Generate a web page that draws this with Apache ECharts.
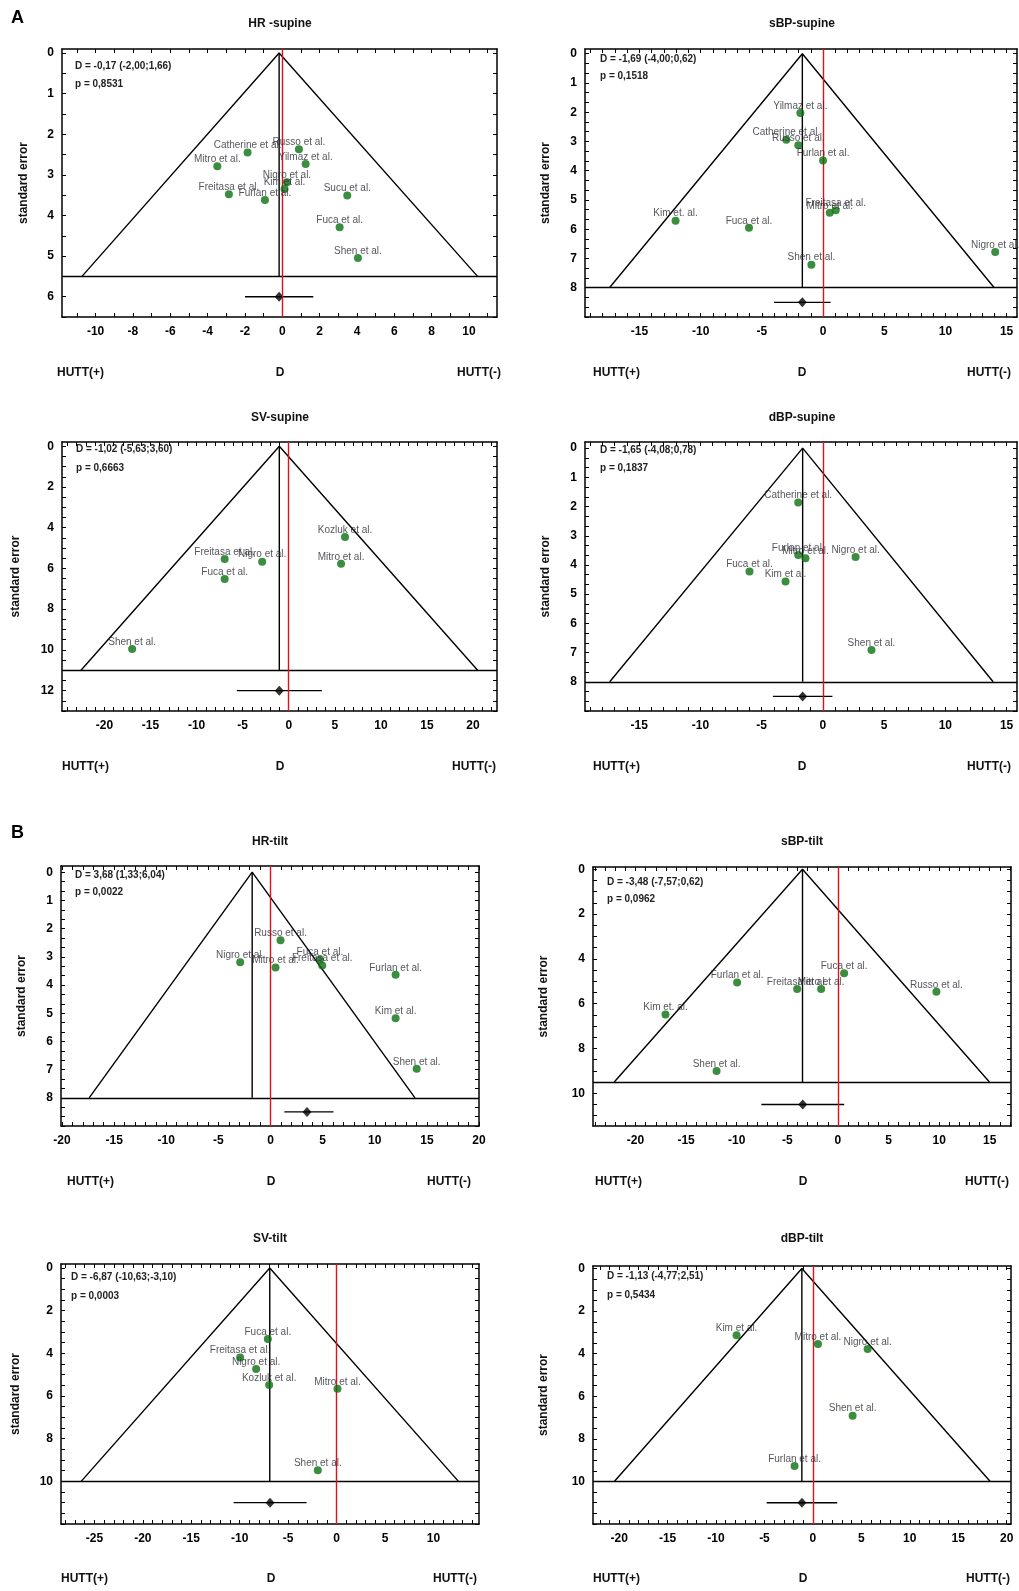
<!DOCTYPE html>
<html><head><meta charset="utf-8">
<script src="https://cdn.jsdelivr.net/npm/echarts@6/dist/echarts.min.js"></script>
<style>html,body{margin:0;padding:0;background:#fff}#c{width:1019px;height:1591px}</style>
</head><body><div id="c"></div>
<script>
// ---------------- DATA ----------------
const panelTitles = ['HR -supine','sBP-supine','SV-supine','dBP-supine','HR-tilt','sBP-tilt','SV-tilt','dBP-tilt'];

const hrSupineNames  = ['Catherine et al.','Russo et al.','Mitro et al.','Yilmaz et al.','Nigro et al.','Kim et al.','Freitasa et al.','Furlan et al.','Sucu et al.','Fuca et al.','Shen et al.'];
const hrSupineD      = [-1.86, 0.89, -3.48, 1.25, 0.25, 0.12, -2.86, -0.93, 3.48, 3.07, 4.05];
const hrSupineSE     = [2.45, 2.37, 2.79, 2.73, 3.18, 3.35, 3.48, 3.62, 3.51, 4.29, 5.05];

const sbpSupineNames = ['Yilmaz et al.','Catherine et al.','Russo et al.','Furlan et al.','Freitasa et al.','Mitro et al.','Kim et. al.','Fuca et al.','Nigro et al.','Shen et al.'];
const sbpSupineD     = [-1.85, -3.0, -2.02, 0.0, 1.04, 0.55, -12.05, -6.05, 14.07, -0.95];
const sbpSupineSE    = [2.03, 2.94, 3.13, 3.65, 5.35, 5.44, 5.71, 5.95, 6.78, 7.21];

const svSupineNames  = ['Kozluk et al.','Freitasa et al.','Nigro et al.','Mitro et al.','Fuca et al.','Shen et al.'];
const svSupineD      = [6.11, -6.95, -2.88, 5.68, -6.95, -16.99];
const svSupineSE     = [4.46, 5.54, 5.67, 5.77, 6.52, 9.95];

const dbpSupineNames = ['Catherine et al.','Furlan et al.','Mitro et al.','Nigro et al.','Fuca et al.','Kim et al.','Shen et al.'];
const dbpSupineD     = [-2.01, -2.01, -1.42, 2.67, -5.99, -3.05, 3.97];
const dbpSupineSE    = [1.86, 3.66, 3.77, 3.73, 4.22, 4.57, 6.91];

const hrTiltNames    = ['Russo et al.','Nigro et al.','Mitro et al.','Fuca et al.','Freitasa et al.','Furlan et al.','Kim et al.','Shen et al.'];
const hrTiltD        = [0.96, -2.91, 0.48, 4.74, 4.96, 12.0, 12.0, 14.02];
const hrTiltSE       = [2.41, 3.19, 3.38, 3.10, 3.31, 3.64, 5.18, 6.97];

const sbpTiltNames   = ['Fuca et al.','Furlan et al.','Freitasa et al.','Mitro et al.','Russo et al.','Kim et. al.','Shen et al.'];
const sbpTiltD       = [0.61, -9.96, -4.03, -1.66, 9.73, -17.04, -11.99];
const sbpTiltSE      = [4.64, 5.05, 5.35, 5.35, 5.47, 6.48, 9.0];

const svTiltNames    = ['Fuca et al.','Freitasa et al.','Nigro et al.','Kozluk et al.','Mitro et al.','Shen et al.'];
const svTiltD        = [-7.10, -9.96, -8.31, -6.96, 0.09, -1.94];
const svTiltSE       = [3.33, 4.19, 4.73, 5.48, 5.66, 9.48];

const dbpTiltNames   = ['Kim et al.','Mitro et al.','Nigro et al.','Shen et al.','Furlan et al.'];
const dbpTiltD       = [-7.88, 0.52, 5.65, 4.10, -1.89];
const dbpTiltSE      = [3.13, 3.55, 3.78, 6.91, 9.27];

// pooled estimates
const statText   = ['D = -0,17 (-2,00;1,66)','D = -1,69 (-4,00;0,62)','D = -1,02 (-5,63;3,60)','D = -1,65 (-4,08;0,78)','D = 3,68 (1,33;6,04)','D = -3,48 (-7,57;0,62)','D = -6,87 (-10,63;-3,10)','D = -1,13 (-4,77;2,51)'];
const pText      = ['p = 0,8531','p = 0,1518','p = 0,6663','p = 0,1837','p = 0,0022','p = 0,0962','p = 0,0003','p = 0,5434'];
const diamondX   = [-0.17, -1.69, -1.02, -1.65, 3.5, -3.48, -6.87, -1.13];
const ciLow      = [-2.00, -4.00, -5.63, -4.08, 1.33, -7.57, -10.63, -4.77];
const ciHigh     = [1.66, 0.62, 3.60, 0.78, 6.04, 0.62, -3.10, 2.51];
const summaryRow = [6, 8.5, 12, 8.5, 8.5, 10.5, 11, 11];
// funnel
const funnelBase  = [5.5, 8, 11, 8, 8, 9.5, 10, 10];
const funnelApexX = [-0.17, -1.69, -1.02, -1.65, -1.76, -3.5, -6.9, -1.14];
const funnelLeft  = [-10.73, -17.45, -22.54, -17.4, -17.4, -22.1, -26.37, -20.5];
const funnelRight = [10.46, 13.99, 20.5, 13.9, 13.86, 14.97, 12.58, 18.31];
// axes
const xMin = [-11.8, -19.45, -24.6, -19.42, -20.1, -24.2, -28.45, -22.7];
const xMax = [11.5, 15.85, 22.6, 15.85, 20, 17.1, 14.7, 20.45];
const yMin = [-0.1, -0.16, -0.21, -0.21, -0.22, -0.1, -0.19, -0.12];
const yMax = [6.5, 9, 13, 9, 9, 11.46, 12, 12];
const xTickLabels = [
  [-10,-8,-6,-4,-2,0,2,4,6,8,10],
  [-15,-10,-5,0,5,10,15],
  [-20,-15,-10,-5,0,5,10,15,20],
  [-15,-10,-5,0,5,10,15],
  [-20,-15,-10,-5,0,5,10,15,20],
  [-20,-15,-10,-5,0,5,10,15],
  [-25,-20,-15,-10,-5,0,5,10],
  [-20,-15,-10,-5,0,5,10,15,20]
];
const yTickLabels = [
  [0,1,2,3,4,5,6],
  [0,1,2,3,4,5,6,7,8],
  [0,2,4,6,8,10,12],
  [0,1,2,3,4,5,6,7,8],
  [0,1,2,3,4,5,6,7,8],
  [0,2,4,6,8,10],
  [0,2,4,6,8,10],
  [0,2,4,6,8,10]
];
const xSub = [2,5,5,5,5,5,5,5];
const ySub = [2,3,4,3,3,4,4,4];

const studyNames = [hrSupineNames, sbpSupineNames, svSupineNames, dbpSupineNames, hrTiltNames, sbpTiltNames, svTiltNames, dbpTiltNames];
const studyD     = [hrSupineD, sbpSupineD, svSupineD, dbpSupineD, hrTiltD, sbpTiltD, svTiltD, dbpTiltD];
const studySE    = [hrSupineSE, sbpSupineSE, svSupineSE, dbpSupineSE, hrTiltSE, sbpTiltSE, svTiltSE, dbpTiltSE];

// ---------------- LAYOUT ----------------
const gridRect = [[62,49,435,268],[585,49,432,268],[62,442,435,269],[585,442,432,269],
                  [61,866,418,260],[593,867,418,259],[61,1264,418,260],[593,1266,418,258]];
const titlePos = [[280,24],[802,24],[280,418],[802,418],[270,842],[802,842],[270,1239],[802,1239]];
const yNameX = [24,546,16,546,22,544,16,544];
const huttRow = [[373,57,280,501],[373,593,802,1011],[767,62,280,496],[767,593,802,1011],
                 [1182,67,271,471],[1182,595,803,1009],[1579,61,271,477],[1579,593,803,1010]];
const annPos = [[75,66,84],[600,59,76],[76,449,468],[600,450,468],[75,875,892],[607,882,899],[71,1277,1296],[607,1276,1295]];

const FF = '"Liberation Sans", Arial, Helvetica, sans-serif';
const BOLD12 = 'bold 12px ' + FF;

function tickSet(majors, sub, mn, mx) {
  const step = (majors[1] - majors[0]) / sub;
  const out = [];
  let v = majors[0];
  while (v - step >= mn - 1e-9) v -= step;
  for (; v <= mx + 1e-9; v += step) out.push(Math.round(v * 1000) / 1000);
  return out;
}

const grids = [], xAxes = [], yAxes = [], series = [], graphics = [];
const baseAxis = {
  type: 'value', splitLine: { show: false },
  axisLine: { show: true, onZero: false, lineStyle: { color: '#000', width: 1.5 } }
};

for (let i = 0; i < 8; i++) {
  const g = gridRect[i];
  grids.push({ left: g[0], top: g[1], width: g[2], height: g[3], containLabel: false });
  const xt = tickSet(xTickLabels[i], xSub[i], xMin[i], xMax[i]);
  const yt = tickSet(yTickLabels[i], ySub[i], yMin[i], yMax[i]);
  const tick = (vals) => ({ show: true, inside: true, length: 4, customValues: vals, lineStyle: { color: '#000', width: 1 } });
  xAxes.push(Object.assign({}, baseAxis, { gridIndex: i, position: 'bottom', min: xMin[i], max: xMax[i],
    axisTick: tick(xt),
    axisLabel: { show: true, customValues: xTickLabels[i], margin: 9, color: '#000', fontWeight: 'bold', fontSize: 12, fontFamily: FF } }));
  xAxes.push(Object.assign({}, baseAxis, { gridIndex: i, position: 'top', min: xMin[i], max: xMax[i],
    axisTick: tick(xt), axisLabel: { show: false } }));
  yAxes.push(Object.assign({}, baseAxis, { gridIndex: i, position: 'left', inverse: true, min: yMin[i], max: yMax[i],
    axisTick: tick(yt),
    axisLabel: { show: true, customValues: yTickLabels[i], margin: 8, color: '#000', fontWeight: 'bold', fontSize: 12, fontFamily: FF } }));
  yAxes.push(Object.assign({}, baseAxis, { gridIndex: i, position: 'right', inverse: true, min: yMin[i], max: yMax[i],
    axisTick: tick(yt), axisLabel: { show: false } }));

  const xi = 2 * i, yi = 2 * i;
  const lineBase = { type: 'line', xAxisIndex: xi, yAxisIndex: yi, symbol: 'none', silent: true, animation: false };
  // funnel
  series.push(Object.assign({}, lineBase, {
    z: 2,
    data: [[funnelLeft[i], funnelBase[i]], [funnelApexX[i], 0], [funnelRight[i], funnelBase[i]]],
    lineStyle: { color: '#000', width: 1.4 },
    markLine: { silent: true, symbol: 'none', animation: false, label: { show: false },
      data: [ { yAxis: funnelBase[i], lineStyle: { color: '#000', width: 1.4, type: 'solid' } },
              { xAxis: 0, lineStyle: { color: '#e0101c', width: 1.4, type: 'solid' } } ] }
  }));
  // vertical line at funnel centre
  series.push(Object.assign({}, lineBase, {
    z: 2,
    data: [[funnelApexX[i], 0], [funnelApexX[i], funnelBase[i]]],
    lineStyle: { color: '#000', width: 1.4 }
  }));
  // CI line
  series.push(Object.assign({}, lineBase, {
    z: 3,
    data: [[ciLow[i], summaryRow[i]], [ciHigh[i], summaryRow[i]]],
    lineStyle: { color: '#000', width: 1.4 }
  }));
  // diamond
  series.push({ type: 'scatter', xAxisIndex: xi, yAxisIndex: yi, silent: true, animation: false, z: 4,
    symbol: 'diamond', symbolSize: [9, 10], itemStyle: { color: '#000' },
    data: [[diamondX[i], summaryRow[i]]] });
  // studies
  series.push({ type: 'scatter', xAxisIndex: xi, yAxisIndex: yi, silent: true, animation: false, z: 5,
    symbol: 'circle', symbolSize: 8, itemStyle: { color: '#0a7010' },
    label: { show: true, position: 'top', distance: -2, formatter: p => p.name,
      fontSize: 10, fontFamily: FF, color: '#2a2a33' },
    labelLayout: { hideOverlap: false },
    data: studyNames[i].map((n, k) => ({ name: n, value: [studyD[i][k], studySE[i][k]] })) });

  // texts
  graphics.push({ type: 'text', x: titlePos[i][0], y: titlePos[i][1], silent: true,
    style: { text: panelTitles[i], font: BOLD12, fill: '#111', textAlign: 'center', textVerticalAlign: 'middle', align: 'center', verticalAlign: 'middle' } });
  graphics.push({ type: 'text', x: yNameX[i], y: g[1] + g[3] / 2, rotation: Math.PI / 2, silent: true,
    style: { text: 'standard error', font: BOLD12, fill: '#111', textAlign: 'center', textVerticalAlign: 'middle', align: 'center', verticalAlign: 'middle' } });
  const h = huttRow[i];
  graphics.push({ type: 'text', x: h[1], y: h[0], silent: true,
    style: { text: 'HUTT(+)', font: BOLD12, fill: '#111', textAlign: 'left', textVerticalAlign: 'middle', align: 'left', verticalAlign: 'middle' } });
  graphics.push({ type: 'text', x: h[2], y: h[0], silent: true,
    style: { text: 'D', font: BOLD12, fill: '#111', textAlign: 'center', textVerticalAlign: 'middle', align: 'center', verticalAlign: 'middle' } });
  graphics.push({ type: 'text', x: h[3], y: h[0], silent: true,
    style: { text: 'HUTT(-)', font: BOLD12, fill: '#111', textAlign: 'right', textVerticalAlign: 'middle', align: 'right', verticalAlign: 'middle' } });
  const a = annPos[i];
  graphics.push({ type: 'text', x: a[0], y: a[1], silent: true,
    style: { text: statText[i], font: 'bold 10px ' + FF, fill: '#222', textAlign: 'left', textVerticalAlign: 'middle', align: 'left', verticalAlign: 'middle' } });
  graphics.push({ type: 'text', x: a[0], y: a[2], silent: true,
    style: { text: pText[i], font: 'bold 10px ' + FF, fill: '#222', textAlign: 'left', textVerticalAlign: 'middle', align: 'left', verticalAlign: 'middle' } });
}
graphics.push({ type: 'text', x: 11, y: 18, silent: true,
  style: { text: 'A', font: 'bold 18px ' + FF, fill: '#000', textAlign: 'left', textVerticalAlign: 'middle', align: 'left', verticalAlign: 'middle' } });
graphics.push({ type: 'text', x: 11, y: 833, silent: true,
  style: { text: 'B', font: 'bold 18px ' + FF, fill: '#000', textAlign: 'left', textVerticalAlign: 'middle', align: 'left', verticalAlign: 'middle' } });

const chart = echarts.init(document.getElementById('c'), null, { renderer: 'canvas' });
chart.setOption({
  backgroundColor: '#fff',
  animation: false,
  grid: grids,
  xAxis: xAxes,
  yAxis: yAxes,
  series: series,
  graphic: graphics
});
</script></body></html>
